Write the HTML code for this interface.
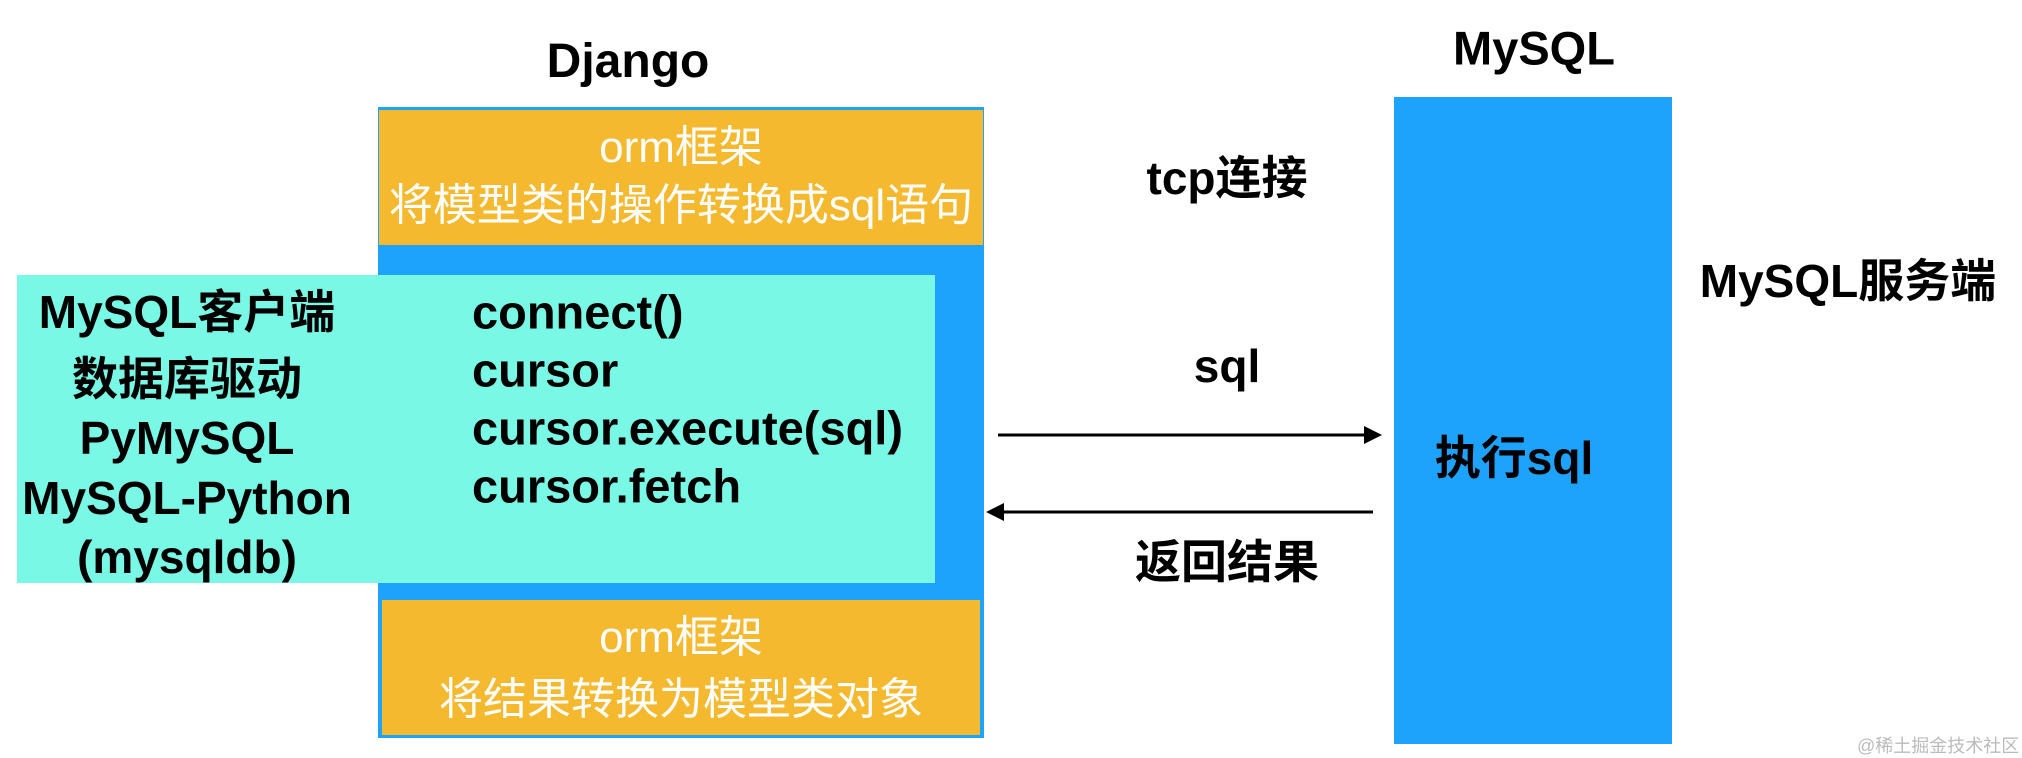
<!DOCTYPE html>
<html><head><meta charset="utf-8"><style>
body{margin:0;width:2022px;height:758px;background:#fff;position:relative;overflow:hidden;font-family:"Liberation Sans","Noto Sans CJK SC",sans-serif}
.a{position:absolute}
.t{position:absolute;font-weight:bold;color:#000;white-space:nowrap;transform:translate(-50%,-50%);line-height:1}
.w{position:absolute;color:#fff;white-space:nowrap;transform:translate(-50%,-50%);line-height:1;font-size:44px}
</style></head><body>
<div class="t" style="left:628px;top:62px;font-size:48px">Django</div>
<div class="a" style="left:378px;top:107px;width:606px;height:631px;background:#1ea3fd"></div>
<div class="a" style="left:379px;top:110px;width:604px;height:135px;background:#f4b92e"></div>
<div class="w" style="left:681px;top:148px">orm框架</div>
<div class="w" style="left:681px;top:206px">将模型类的操作转换成sql语句</div>
<div class="a" style="left:382px;top:600px;width:598px;height:135px;background:#f4b92e"></div>
<div class="w" style="left:681px;top:638px">orm框架</div>
<div class="w" style="left:681px;top:700px">将结果转换为模型类对象</div>
<div class="a" style="left:17px;top:275px;width:918px;height:308px;background:#7af8e6"></div>
<div class="t" style="left:187px;top:312px;font-size:46px">MySQL客户端</div>
<div class="t" style="left:187px;top:379px;font-size:46px">数据库驱动</div>
<div class="t" style="left:187px;top:438px;font-size:46px">PyMySQL</div>
<div class="t" style="left:187px;top:498px;font-size:46px">MySQL-Python</div>
<div class="t" style="left:187px;top:557px;font-size:46px">(mysqldb)</div>
<div class="t" style="left:472px;top:312px;font-size:47px;transform:translateY(-50%)">connect()</div>
<div class="t" style="left:472px;top:370px;font-size:47px;transform:translateY(-50%)">cursor</div>
<div class="t" style="left:472px;top:428px;font-size:47px;transform:translateY(-50%)">cursor.execute(sql)</div>
<div class="t" style="left:472px;top:486px;font-size:47px;transform:translateY(-50%)">cursor.fetch</div>
<div class="t" style="left:1534px;top:48px;font-size:47px">MySQL</div>
<div class="a" style="left:1394px;top:97px;width:278px;height:647px;background:#1ea3fd"></div>
<div class="t" style="left:1514px;top:458px;font-size:46px">执行sql</div>
<div class="t" style="left:1227px;top:178px;font-size:46px">tcp连接</div>
<div class="t" style="left:1227px;top:366px;font-size:46px">sql</div>
<div class="t" style="left:1227px;top:562px;font-size:46px">返回结果</div>
<div class="t" style="left:1848px;top:281px;font-size:46px">MySQL服务端</div>
<svg class="a" style="left:0;top:0" width="2022" height="758">
<line x1="998" y1="435" x2="1366" y2="435" stroke="#000" stroke-width="3"/>
<polygon points="1382,435 1364,426 1364,444" fill="#000"/>
<line x1="1002" y1="512" x2="1373" y2="512" stroke="#000" stroke-width="3"/>
<polygon points="986,512 1004,503 1004,521" fill="#000"/>
</svg>
<div class="a" style="left:1857px;top:732px;font-size:18px;color:#bbb;white-space:nowrap">@稀土掘金技术社区</div>
</body></html>
